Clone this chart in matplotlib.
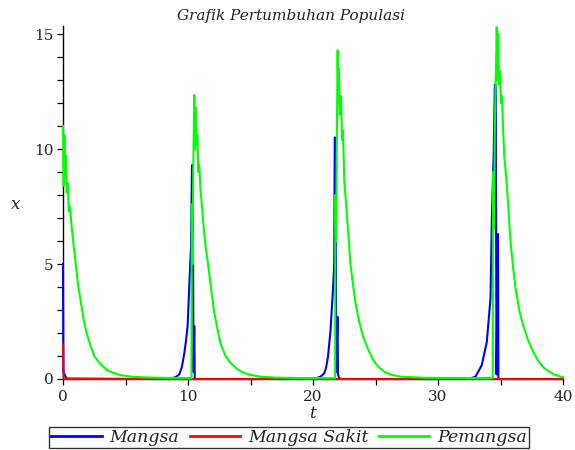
import matplotlib
matplotlib.use('Agg')
import matplotlib.pyplot as plt
from matplotlib.ticker import MultipleLocator

# ---- data ----
t_mangsa = [0.0, 0.03, 0.3, 5.0, 8.6, 9.0, 9.3, 9.5, 9.7, 9.85, 9.97, 10.1, 10.24,
            10.32, 10.38, 10.44, 10.5, 10.54, 10.6, 15.0,
            20.2, 20.6, 20.9, 21.05, 21.2, 21.4, 21.6, 21.7, 21.74, 21.8, 21.86,
            21.96, 22.0, 22.1, 22.3, 30.0,
            32.6, 33.0, 33.5, 33.9, 34.2, 34.3, 34.45, 34.55, 34.62, 34.68, 34.8,
            34.83, 34.9, 40.0]
mangsa = [5.0, 0.3, 0.02, 0.005, 0.02, 0.08, 0.2, 0.5, 1.1, 1.7, 2.3, 4.0, 5.75,
          9.3, 9.3, 0.3, 2.3, 0.05, 0.0, 0.0,
          0.02, 0.1, 0.25, 0.5, 0.97, 2.1, 3.9, 5.0, 10.5, 10.5, 0.3,
          2.7, 0.2, 0.03, 0.0, 0.0,
          0.03, 0.1, 0.6, 1.6, 3.5, 6.8, 9.7, 12.8, 12.8, 0.2, 6.3,
          0.05, 0.0, 0.0]

t_sakit = [0.0, 0.05, 40.0]
sakit = [1.5, 0.0, 0.0]

t_pemangsa = [0.0, 0.06, 0.12, 0.18, 0.24, 0.3, 0.38, 0.46, 0.55, 0.7, 0.85, 1.04,
              1.2, 1.44, 1.65, 1.84, 2.2, 2.5, 3.0, 3.5, 4.0, 4.6, 5.5, 6.5, 8.0,
              10.28, 10.3, 10.36, 10.42, 10.5, 10.56, 10.62, 10.68, 10.75, 10.82,
              10.9, 11.0, 11.1, 11.3, 11.5, 11.7, 11.9, 12.1, 12.35, 12.6, 13.0,
              13.4, 14.0, 14.5, 15.2, 15.8, 17.0, 19.0,
              21.77, 21.79, 21.85, 21.9, 21.97, 22.03, 22.08, 22.14, 22.24, 22.32,
              22.4, 22.5, 22.65, 22.8, 23.0, 23.2, 23.4, 23.7, 24.0, 24.4, 24.8,
              25.2, 25.7, 26.3, 27.0, 29.0,
              34.38, 34.4, 34.48, 34.55, 34.7, 34.76, 34.82, 34.88, 34.95, 35.04,
              35.12, 35.2, 35.3, 35.45, 35.6, 35.8, 36.0, 36.2, 36.5, 36.8, 37.2,
              37.6, 38.0, 38.5, 39.2, 39.8, 40.0]
pemangsa = [11.0, 8.4, 10.6, 8.8, 9.7, 8.1, 8.5, 7.3, 7.5, 6.6, 5.8, 4.9,
            4.1, 3.3, 2.6, 2.1, 1.45, 1.0, 0.65, 0.4, 0.27, 0.17, 0.1, 0.07, 0.05,
            0.04, 7.6, 5.0, 9.0, 12.35, 10.0, 11.8, 10.2, 10.6, 9.0,
            9.3, 8.2, 7.6, 6.3, 5.4, 4.6, 3.7, 2.9, 2.2, 1.55, 1.0,
            0.7, 0.4, 0.26, 0.16, 0.1, 0.06, 0.04,
            0.04, 8.0, 6.0, 10.0, 14.3, 12.0, 13.5, 11.5, 12.3, 10.4,
            10.8, 8.65, 7.6, 6.5, 5.0, 4.1, 3.3, 2.5, 1.85, 1.3, 0.83,
            0.55, 0.32, 0.18, 0.1, 0.05,
            0.04, 9.0, 6.5, 11.0, 15.3, 13.0, 15.0, 12.8, 13.4, 12.0,
            12.3, 11.0, 9.7, 8.8, 7.7, 6.0, 4.9, 3.95, 3.0, 2.35, 1.7,
            1.2, 0.8, 0.47, 0.22, 0.1, 0.08]

x_ticks = [0, 10, 20, 30, 40]
y_ticks = [0, 5, 10, 15]
labels = ['Mangsa', 'Mangsa Sakit', 'Pemangsa']
title = 'Grafik Pertumbuhan Populasi'

W, H = 575, 450
fig = plt.figure(figsize=(W / 100, H / 100), dpi=100)
ax = fig.add_axes([63 / W, 71 / H, 500 / W, 353 / H])

lw = 1.5
ax.plot(t_mangsa, mangsa, color='#0000ff', lw=lw, clip_on=False, zorder=3, label=labels[0])
ax.plot(t_sakit, sakit, color='#ff0000', lw=lw, clip_on=False, zorder=3, label=labels[1])
ax.plot(t_pemangsa, pemangsa, color='#00ff00', lw=lw, clip_on=False, zorder=3, label=labels[2])

ax.set_xlim(0, 40)
ax.set_ylim(0, 15.35)
for s in ['top', 'right']:
    ax.spines[s].set_visible(False)
for s in ['left', 'bottom']:
    ax.spines[s].set_linewidth(1.0)
    ax.spines[s].set_color('black')

ax.set_xticks(x_ticks)
ax.set_yticks(y_ticks)
ax.xaxis.set_minor_locator(MultipleLocator(5))
ax.yaxis.set_minor_locator(MultipleLocator(1))
ax.tick_params(which='both', direction='out', length=4, width=0.9, color='black')
ax.tick_params(axis='x', which='major', pad=4)
ax.tick_params(axis='y', which='major', pad=3)
for lab in ax.get_xticklabels() + ax.get_yticklabels():
    lab.set_family('DejaVu Serif')
    lab.set_fontsize(11)
    lab.set_color('#222222')

serif = 'DejaVu Serif'
fig.text(291 / W, 1 - 16 / H, title, ha='center', va='center', style='italic',
         family=serif, fontsize=11, color='#222222')
fig.text(16 / W, 1 - 205 / H, 'x', ha='center', va='center', style='italic',
         family=serif, fontsize=12, color='#222222')
fig.text(312 / W, 1 - 413 / H, 't', ha='center', va='center', style='italic',
         family=serif, fontsize=12, color='#222222')

leg = fig.legend(loc='center', bbox_to_anchor=(289 / W, 1 - 437.5 / H), ncol=3,
                 frameon=True, fancybox=False, edgecolor='black',
                 prop={'family': serif, 'style': 'italic', 'size': 12.5},
                 handlelength=2.9, handletextpad=0.45, columnspacing=0.6,
                 borderpad=0.12, borderaxespad=0)
leg.get_frame().set_linewidth(1.0)
for line in leg.get_lines():
    line.set_linewidth(2.0)
for txt in leg.get_texts():
    txt.set_color('#222222')

fig.savefig('out.png', dpi=100)
